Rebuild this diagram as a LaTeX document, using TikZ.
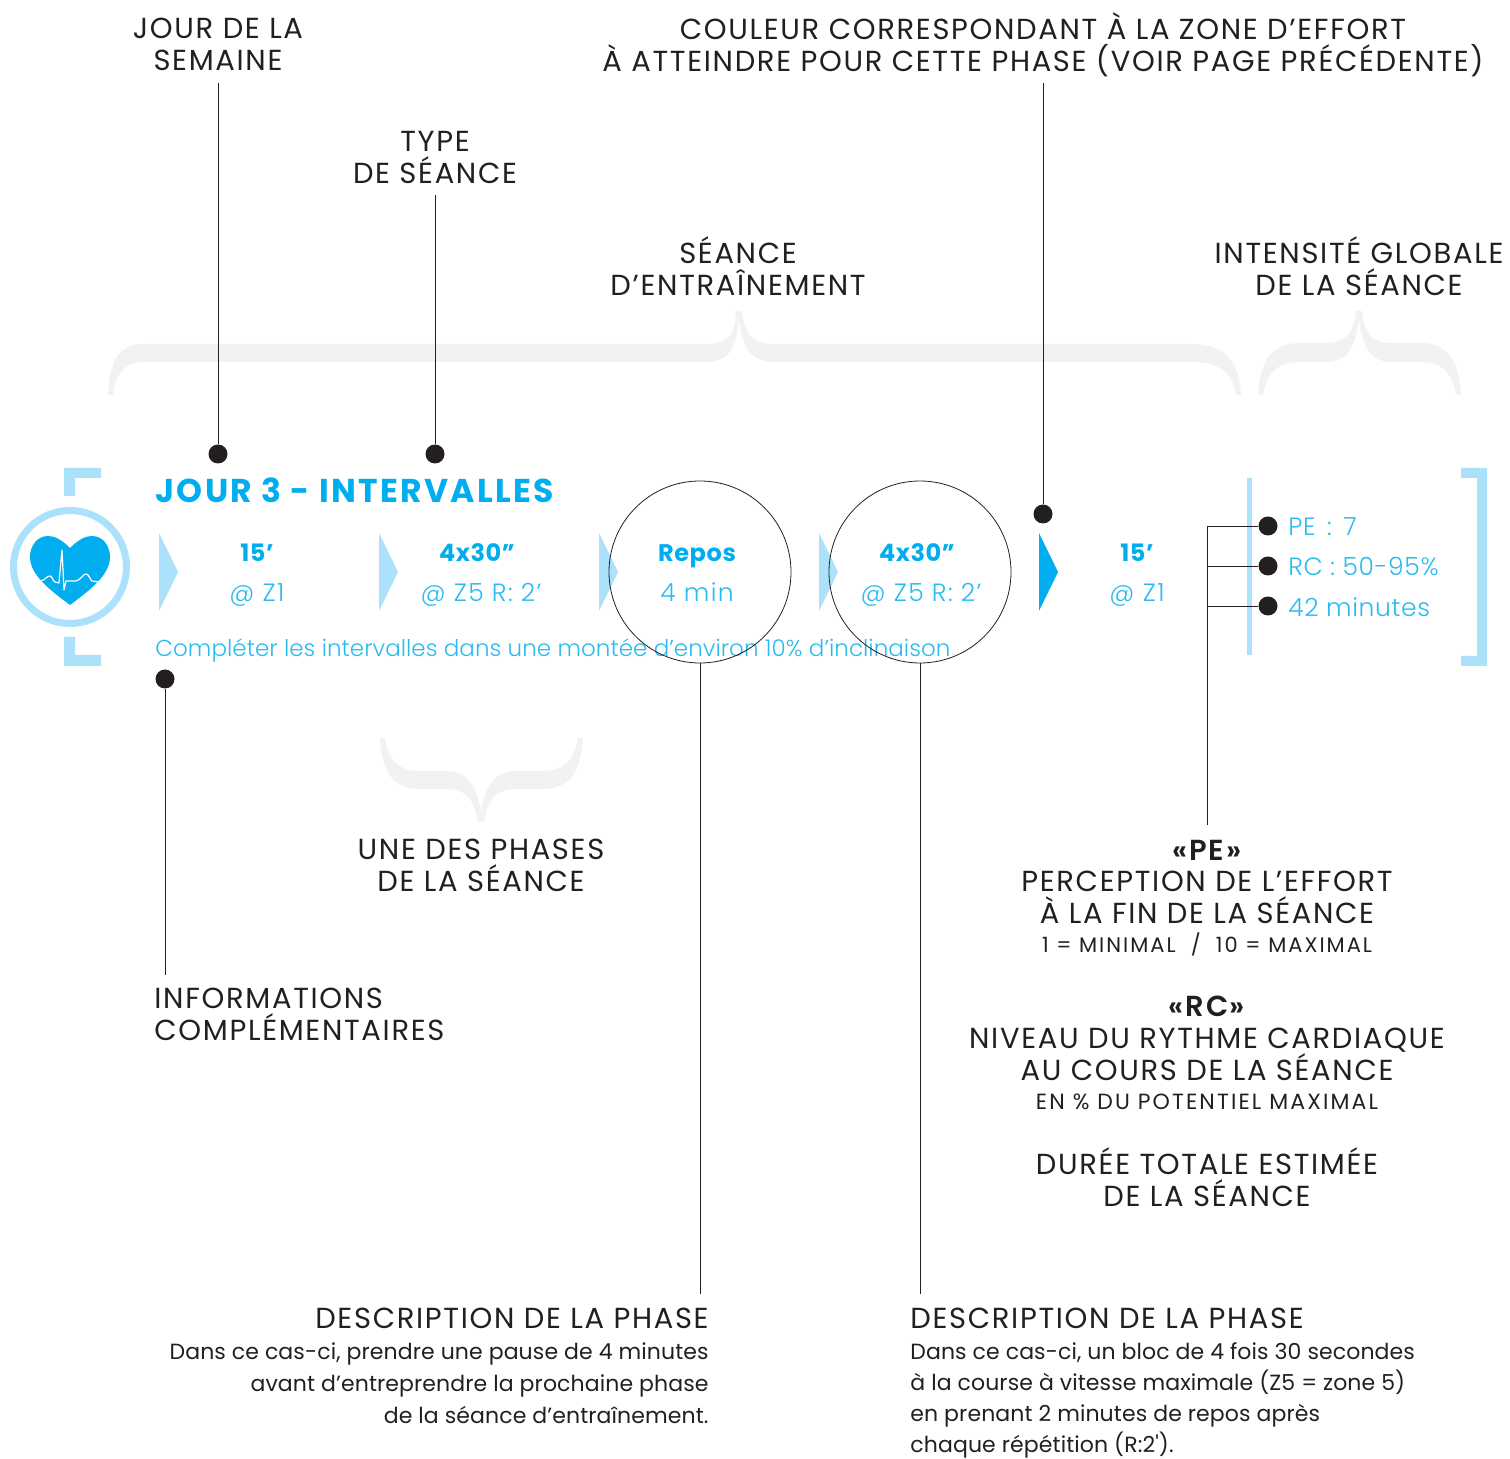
\documentclass[tikz,border=0pt]{standalone}
\usepackage{fontspec}
\setmainfont{Poppins Light}[BoldFont={Poppins SemiBold}]
\newfontfamily\tfam{Poppins Light}[LetterSpace=2.5]
\newfontfamily\phfam{Poppins Light}[LetterSpace=5.5]
\newfontfamily\infofam{Poppins Light}[LetterSpace=0.2]
\newfontfamily\labfam{Poppins}[LetterSpace=5.8]
\newfontfamily\smfam{Poppins}[LetterSpace=9.5]
\newfontfamily\dsfam{Poppins}[LetterSpace=0.5]
\newfontfamily\sbfam{Poppins SemiBold}[LetterSpace=5.8]
\newfontfamily\tbfam{Poppins Bold}[LetterSpace=2.5]
\newfontfamily\ttlfam{Poppins Bold}[LetterSpace=7]
\definecolor{ink}{HTML}{231F20}
\definecolor{cy}{HTML}{00AEEF}
\definecolor{cyl}{HTML}{ABE1FA}
\definecolor{cyt}{HTML}{29BBEF}
\definecolor{brace}{HTML}{F1F2F4}
\tikzset{
 dot/.style={circle,fill=ink,inner sep=0pt,minimum size=9.5pt},
 lead/.style={draw=ink,line width=0.45pt},
 lab/.style={inner sep=0pt,text=ink,align=center,font=\fontsize{14.5}{16}\labfam},
 smalllab/.style={inner sep=0pt,text=ink,align=center,font=\fontsize{10.5}{16}\smfam},
 desc/.style={inner sep=0pt,text=ink,font=\fontsize{11}{16}\dsfam},
 ph/.style={inner sep=0pt,anchor=base,text=cy,font=\fontsize{12}{14}\tbfam},
 phl/.style={inner sep=0pt,anchor=base,text=cyt,font=\fontsize{12.5}{14}\phfam},
 sumt/.style={inner sep=0pt,anchor=west,text=cyt,font=\fontsize{12.5}{14}\tfam},
 tri/.style={fill=cyl},
 brc/.style={fill=brace},
 lens/.style={circle,draw=ink,line width=0.4pt,minimum size=91pt,inner sep=0pt}
}
\begin{document}
\begin{tikzpicture}[x=0.5pt,y=-0.5pt]
\useasboundingbox (0,0) rectangle (1510,1459);
% braces
\fill[brc] (108,395) .. controls (110,360) and (118,344) .. (145,344) -- (705,344) .. controls (728,344) and (735,335) .. (736,311) -- (742,311) .. controls (745,335) and (752,344) .. (775,344) -- (1190,344) .. controls (1225,344) and (1239,360) .. (1241,395) -- (1236,395) .. controls (1232,372) and (1220,362) .. (1190,362) -- (775,362) .. controls (752,362) and (743,350) .. (739,320) .. controls (735,352) and (728,362) .. (705,362) -- (145,362) .. controls (125,362) and (116,372) .. (113,395) -- cycle;
\fill[brc] (1258,395) .. controls (1260,360) and (1272,343) .. (1300,343) -- (1325,343) .. controls (1345,343) and (1353,335) .. (1356,311) -- (1362,311) .. controls (1365,335) and (1372,343) .. (1392,343) -- (1420,343) .. controls (1448,343) and (1459,360) .. (1461,395) -- (1456,395) .. controls (1452,372) and (1442,362) .. (1420,362) -- (1392,362) .. controls (1372,362) and (1363,350) .. (1359,320) .. controls (1355,350) and (1346,362) .. (1325,362) -- (1300,362) .. controls (1278,362) and (1267,372) .. (1263,395) -- cycle;
\fill[brc] (380,738) .. controls (382,773) and (393,789) .. (420,789) -- (445,789) .. controls (465,789) and (474,798) .. (478,822) -- (484,822) .. controls (488,798) and (497,789) .. (517,789) -- (542,789) .. controls (569,789) and (581,773) .. (583,738) -- (578,738) .. controls (574,760) and (564,771) .. (542,771) -- (517,771) .. controls (497,771) and (486,782) .. (481,812) .. controls (476,782) and (465,771) .. (445,771) -- (420,771) .. controls (398,771) and (388,760) .. (385,738) -- cycle;
% brackets
\fill[cyl] (64,468) -- (101,468) -- (101,478) -- (75,478) -- (75,496) -- (64,496) -- cycle;
\fill[cyl] (64,637) -- (75,637) -- (75,655) -- (101,655) -- (101,666) -- (64,666) -- cycle;
\fill[cyl] (1461,468) -- (1487,468) -- (1487,666) -- (1461,666) -- (1461,656) -- (1477,656) -- (1477,478) -- (1461,478) -- cycle;
\fill[cyl] (1247,478) rectangle (1252,655);
% heart icon
\draw[cyl,line width=3.5pt] (70,567) circle (56.5);
\fill[cy] (70,548) .. controls (62,540) and (55,536) .. (48,536) .. controls (37,536) and (30,546) .. (30,557) .. controls (30,575) and (50,590) .. (70,605) .. controls (90,590) and (110,575) .. (110,557) .. controls (110,546) and (103,536) .. (92,536) .. controls (85,536) and (78,540) .. (70,548) -- cycle;
\draw[white,line width=0.6pt,line join=round] (41,581) .. controls (45,580) and (47,576) .. (50,576) .. controls (52,576) and (53,581) .. (55,582) -- (59,583) -- (62,550) -- (64,590) -- (66,581) -- (76,581) .. controls (81,580) and (83,574) .. (86,574) .. controls (89,574) and (90,580) .. (92,581) -- (99,582);
% arrows
\fill[tri] (159,533) -- (178,572) -- (159,611) -- cycle;
\fill[tri] (379,533) -- (398,572) -- (379,611) -- cycle;
\fill[tri] (599,533) -- (618,572) -- (599,611) -- cycle;
\fill[tri] (819,533) -- (838,572) -- (819,611) -- cycle;
\fill[cy] (1039,533) -- (1058,572) -- (1039,611) -- cycle;
% phase text
\node[inner sep=0pt,anchor=west,text=cy,font=\fontsize{16.5}{18}\ttlfam] (title) at (155,490) {JOUR 3 - INTERVALLES};
\node[ph] (p1a) at (257,562) {15’};
\node[phl] (p1b) at (257,602) {@ Z1};
\node[ph] (p2a) at (477,562) {4x30”};
\node[phl] (p2b) at (481,602) {@ Z5 R: 2’};
\node[ph] (p3a) at (697,562) {Repos};
\node[phl] (p3b) at (697,602) {4 min};
\node[ph] (p4a) at (917,562) {4x30”};
\node[phl] (p4b) at (921,602) {@ Z5 R: 2’};
\node[ph] (p5a) at (1137,562) {15’};
\node[phl] (p5b) at (1137,602) {@ Z1};
\node[inner sep=0pt,anchor=west,text=cyt,font=\fontsize{11.5}{14}\infofam] (info) at (155,651) {Compléter les intervalles dans une montée d’environ 10\% d’inclinaison};
\node[sumt] (s1) at (1288,527) {PE\hspace{2pt} : \hspace{2pt}7};
\node[sumt] (s2) at (1288,567) {RC : 50-95\%};
\node[sumt] (s3) at (1288,607) {42 minutes};
% lens circles
\node[lens] (l1) at (700,572) {};
\node[lens] (l2) at (920,572) {};
% labels
\node[lab] (t1) at (218,44.5) {JOUR DE LA\\SEMAINE};
\node[lab] (t2) at (435,157) {TYPE\\DE SÉANCE};
\node[lab] (t3) at (738,266) {SÉANCE\\D’ENTRAÎNEMENT};
\node[lab] (t4) at (1043,45) {COULEUR CORRESPONDANT À LA ZONE D’EFFORT\\À ATTEINDRE POUR CETTE PHASE (VOIR PAGE PRÉCÉDENTE)};
\node[lab] (t5) at (1359,266) {INTENSITÉ GLOBALE\\DE LA SÉANCE};
\node[lab] (t6) at (481,865) {UNE DES PHASES\\DE LA SÉANCE};
\node[lab,align=left,anchor=west] (t7) at (154,1014) {INFORMATIONS\\COMPLÉMENTAIRES};
\node[lab,font=\fontsize{14.5}{16}\sbfam] (pe1) at (1207,850) {«PE»};
\node[lab] (pe2) at (1207,897) {PERCEPTION DE L’EFFORT\\À LA FIN DE LA SÉANCE};
\node[smalllab] (pe3) at (1207,944) {1 = MINIMAL \ / \ 10 = MAXIMAL};
\node[lab,font=\fontsize{14.5}{16}\sbfam] (rc1) at (1207,1006) {«RC»};
\node[lab] (rc2) at (1207,1054) {NIVEAU DU RYTHME CARDIAQUE\\AU COURS DE LA SÉANCE};
\node[smalllab,font=\fontsize{11}{16}\smfam] (rc3) at (1207,1102) {EN \% DU POTENTIEL MAXIMAL};
\node[lab] (du) at (1207,1177) {DURÉE TOTALE ESTIMÉE\\DE LA SÉANCE};
\node[lab,anchor=east] (d1) at (709,1318) {DESCRIPTION DE LA PHASE};
\node[desc,align=right,anchor=north east] (d1b) at (709,1342) {Dans ce cas-ci, prendre une pause de 4 minutes\\avant d’entreprendre la prochaine phase\\de la séance d’entraînement.};
\node[lab,anchor=west] (d2) at (910,1318) {DESCRIPTION DE LA PHASE};
\node[desc,font=\fontsize{11}{15.6}\dsfam,align=left,anchor=north west] (d2b) at (910,1342) {Dans ce cas-ci, un bloc de 4 fois 30 secondes\\à la course à vitesse maximale (Z5 = zone 5)\\en prenant 2 minutes de repos après\\chaque répétition (R:2').};
% dots
\node[dot] (a) at (218,454) {};
\node[dot] (b) at (435,454) {};
\node[dot] (c) at (1043,514) {};
\node[dot] (e) at (165,679) {};
\node[dot] (f) at (1268,526) {};
\node[dot] (g) at (1268,566) {};
\node[dot] (h) at (1268,606) {};
% connector ends
\coordinate (ca) at (218,83);
\coordinate (cb) at (435,195);
\coordinate (cc) at (1043,83);
\coordinate (ce) at (165,975);
\coordinate (cl1) at (700,1294);
\coordinate (cl2) at (920,1294);
\coordinate (ct) at (1207,825);
\coordinate (c1) at (1207,526);
\coordinate (c2) at (1207,566);
\coordinate (c3) at (1207,606);
\draw[lead] (ca) -- (a);
\draw[lead] (cb) -- (b);
\draw[lead] (cc) -- (c);
\draw[lead] (e) -- (ce);
\draw[lead] (l1) -- (cl1);
\draw[lead] (l2) -- (cl2);
\draw[lead] (ct) -- (c1) -- (f);
\draw[lead] (c2) -- (g);
\draw[lead] (c3) -- (h);
\end{tikzpicture}
\end{document}
